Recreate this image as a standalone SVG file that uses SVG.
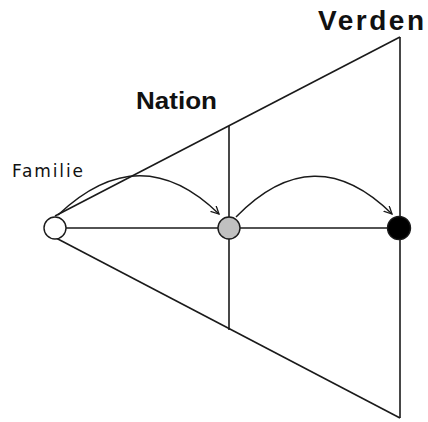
<svg xmlns="http://www.w3.org/2000/svg" width="428" height="422" viewBox="0 0 428 422">
<style>
.ln{stroke:#1a1a1a;stroke-width:1.6;fill:none}
.arc{stroke:#1a1a1a;stroke-width:1.4;fill:none;marker-end:url(#ah)}
.nd{stroke:#1a1a1a;stroke-width:1.4}
text{font-family:"Liberation Sans",Arial,sans-serif;fill:#111}
text.sm{font-family:"DejaVu Sans",Verdana,sans-serif}
</style>
<defs>
<marker id="ah" markerWidth="10" markerHeight="10" refX="8" refY="4" orient="auto" markerUnits="userSpaceOnUse">
<path d="M0,0 L8,4 L0,8" fill="none" stroke="#1a1a1a" stroke-width="1.3"/>
</marker>
</defs>
<rect width="428" height="422" fill="#fff"/>
<g id="connectors">
<line class="ln" x1="55" y1="216" x2="400" y2="37"/>
<line class="ln" x1="56" y1="238" x2="400" y2="418"/>
<line class="ln" x1="400" y1="37" x2="400" y2="418"/>
<line class="ln" x1="229" y1="126" x2="229" y2="330"/>
<line class="ln" x1="66" y1="228" x2="388" y2="228"/>
<path class="arc" d="M58,215 Q140,137 219,214"/>
<path class="arc" d="M236,217 Q314,137 392,214"/>
</g>
<g id="familie">
<circle class="nd" cx="55" cy="228" r="11" fill="#fff"/>
<text class="sm" x="12" y="177" font-size="17" textLength="71" lengthAdjust="spacing">Familie</text>
</g>
<g id="nation">
<circle class="nd" cx="229" cy="228" r="11" fill="#c0c0c0"/>
<text x="136" y="109" font-size="23" font-weight="bold" textLength="81" lengthAdjust="spacingAndGlyphs">Nation</text>
</g>
<g id="verden">
<circle class="nd" cx="399" cy="228" r="11.5" fill="#000"/>
<text x="318" y="30" font-size="28" font-weight="bold" textLength="106" lengthAdjust="spacing">Verden</text>
</g>
</svg>
